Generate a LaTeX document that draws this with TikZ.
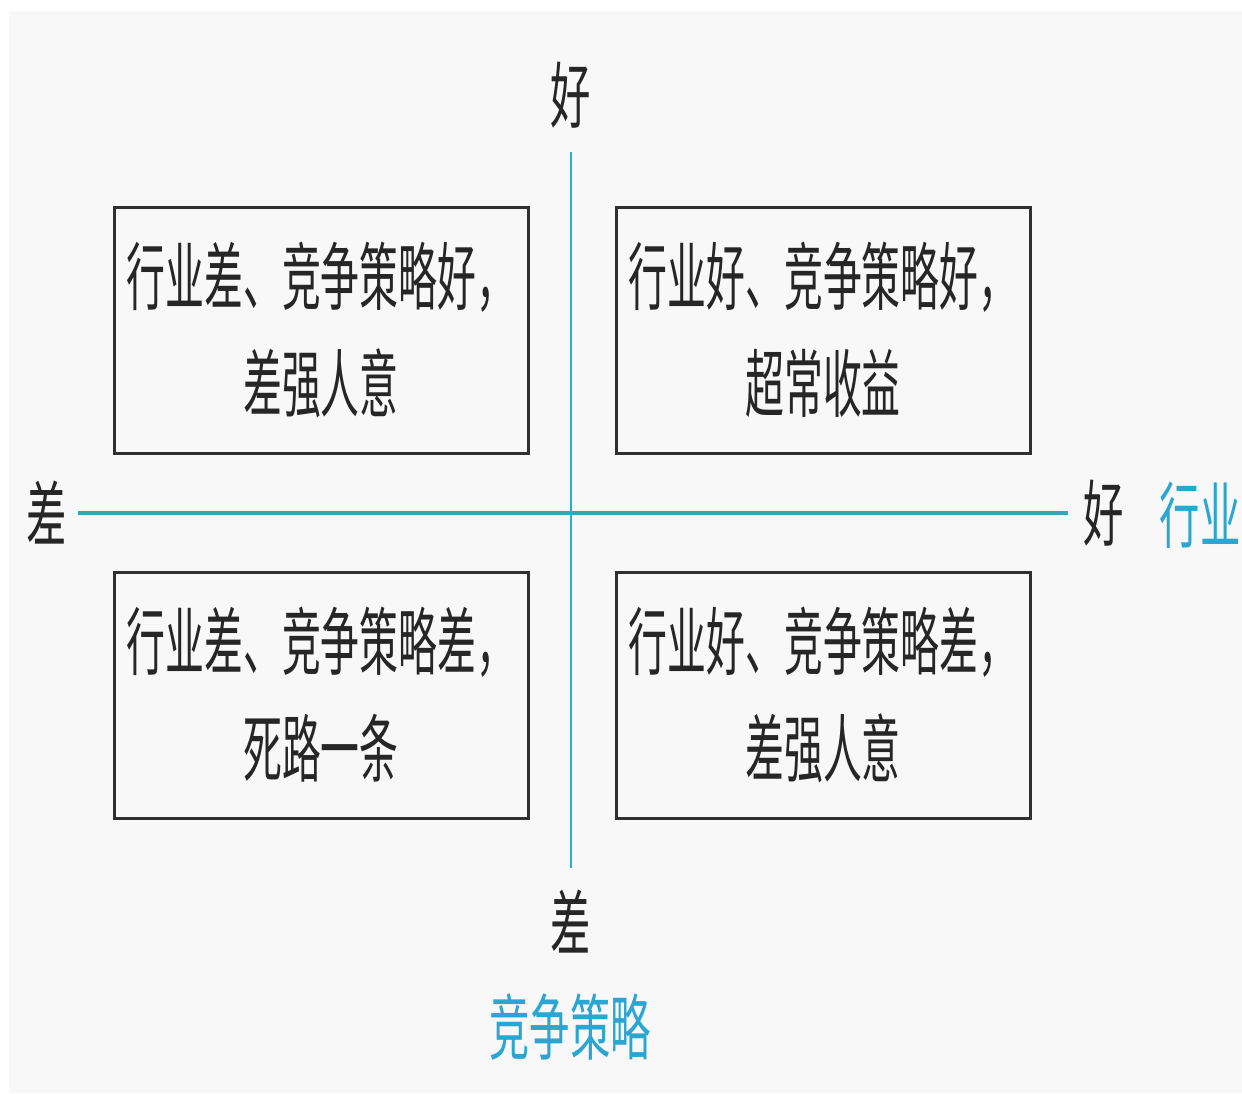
\documentclass[tikz,border=0pt]{standalone}
\usepackage{fontspec}
\newfontfamily\cjk[FakeStretch=0.56]{Noto Sans CJK SC}
\newfontfamily\cjkbox[FakeStretch=0.525]{Noto Sans CJK SC}
\definecolor{axisH}{HTML}{3CA2BA}
\definecolor{axisV}{HTML}{22AED6}
\definecolor{lblcyan}{HTML}{2AA6D2}
\definecolor{panel}{HTML}{F8F8F8}
\definecolor{boxline}{HTML}{303030}
\begin{document}
\begin{tikzpicture}[x=0.5pt,y=-0.5pt,
  quad/.style={draw=boxline,line width=1.5pt,minimum width=207pt,minimum height=123pt,inner sep=0pt,
    align=center,font=\cjkbox\fontsize{37}{53.5}\selectfont,text=black!85},
  axlbl/.style={font=\cjk\fontsize{36}{40}\selectfont,text=black!85,inner sep=0pt},
  axname/.style={font=\cjk\fontsize{36}{40}\selectfont,text=lblcyan,inner sep=0pt}]
\useasboundingbox (0,0) rectangle (1242,1093);
\fill[white] (0,0) rectangle (1242,1093);
\fill[panel] (9,11) rectangle (1242,1093);
% axes
\coordinate (hL) at (78,513);
\coordinate (hR) at (1068,513);
\coordinate (vT) at (571,152);
\coordinate (vB) at (571,868);
\draw[axisH,line width=2.2pt] (hL) -- (hR);
\draw[axisV,line width=1.1pt] (vT) -- (vB);
% quadrants
\node[quad] (tl) at (321,330) {行业差、竞争策略好，\\差强人意};
\node[quad] (tr) at (823,330) {行业好、竞争策略好，\\超常收益};
\node[quad] (bl) at (321,695) {行业差、竞争策略差，\\死路一条};
\node[quad] (br) at (823,695) {行业好、竞争策略差，\\差强人意};
% axis labels
\node[axlbl] (top) at (571,95) {好};
\node[axlbl] (bot) at (571,922) {差};
\node[axlbl] (left) at (47,513) {差};
\node[axlbl] (right) at (1104,513) {好};
\node[axname] (industry) at (1200,515) {行业};
\node[axname] (strategy) at (570,1027) {竞争策略};
\end{tikzpicture}
\end{document}
